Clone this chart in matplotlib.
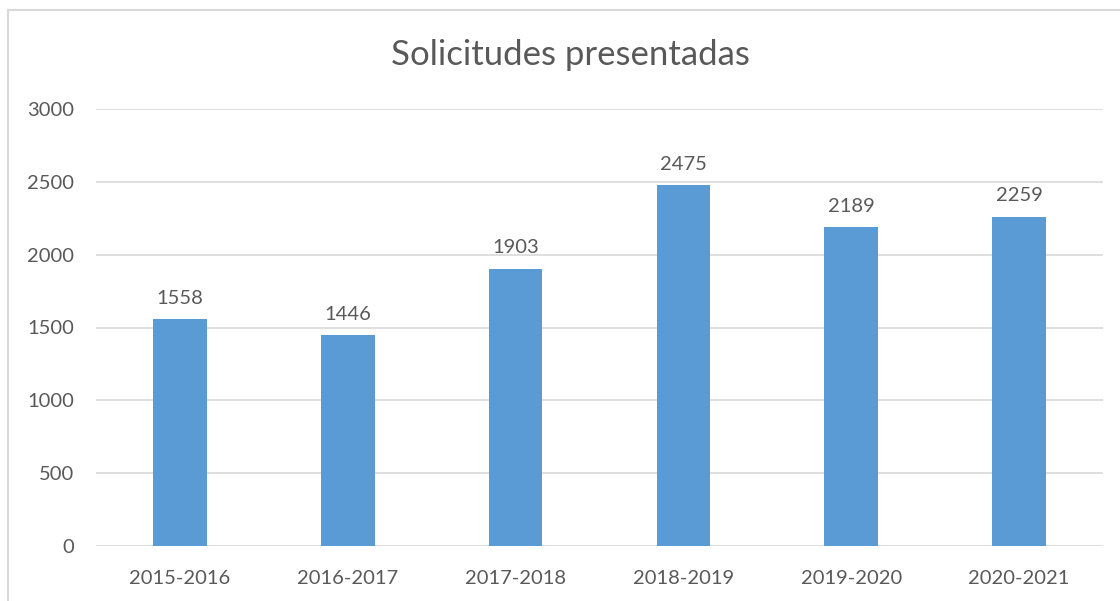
import matplotlib
matplotlib.use("Agg")
import matplotlib.pyplot as plt
from matplotlib.lines import Line2D

years = ["2015-2016", "2016-2017", "2017-2018", "2018-2019", "2019-2020", "2020-2021"]
solicitudes = [1558, 1446, 1903, 2475, 2189, 2259]

plt.rcParams['font.family'] = ['Lato', 'DejaVu Sans']
text_col = '#595959'
grid_col = '#D9D9D9'

fig = plt.figure(figsize=(11.2, 6.01), dpi=100)
ax = fig.add_axes([96/1120, 1-546/601, 1007/1120, 437/601])

x = range(len(years))
bars = ax.bar(x, solicitudes, width=0.32, color='#5B9BD5', zorder=3)
for xi, v in zip(x, solicitudes):
    ax.annotate(str(v), (xi, v), xytext=(0, 9), textcoords='offset points',
                ha='center', va='bottom', fontsize=14.5, color=text_col)

ax.set_xlim(-0.5, len(years) - 0.5)
ax.set_ylim(0, 3000)
ax.set_yticks(range(0, 3001, 500))
ax.set_xticks(list(x))
ax.set_xticklabels(years)
ax.grid(axis='y', color=grid_col, linewidth=1.2, zorder=0)
for s in ax.spines.values():
    s.set_visible(False)
ax.tick_params(length=0, labelsize=14.5, labelcolor=text_col)
ax.tick_params(axis='y', pad=16)
ax.tick_params(axis='x', pad=17)

fig.text(570/1120, 1-55/601, "Solicitudes presentadas", ha='center', va='center',
         fontsize=25, color=text_col)

# chart frame (left and top edges visible)
fig.add_artist(Line2D([8/1120, 8/1120], [0, 1-10/601], color=grid_col, lw=1.5))
fig.add_artist(Line2D([8/1120, 1], [1-10/601, 1-10/601], color=grid_col, lw=1.5))

fig.savefig("out.png", dpi=100)
